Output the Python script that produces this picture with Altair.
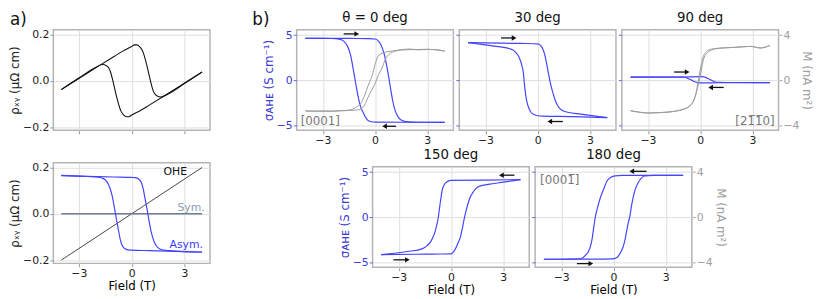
import altair as alt
import pandas as pd

FONT = "DejaVu Sans"
BLUE = "#4444ff"
BLUE_TXT = "#3a3ad6"
GRAY = "#9a9a9a"
GRAY_TXT = "#a0a0a0"

# ---------------- panel a (top): total rho_xy ----------------
A_TOP_UP_X = [-4, -3, -2, -1, -0.5, 0, 0.15, 0.3, 0.45, 0.6, 0.7, 0.8, 0.9, 1.0, 1.1, 1.2, 1.3, 1.45, 1.65, 2, 3, 4]
A_TOP_UP_Y = [-0.038, 0.01, 0.058, 0.105, 0.128, 0.148, 0.155, 0.155, 0.148, 0.132, 0.112, 0.085, 0.055, 0.022,
              -0.01, -0.038, -0.055, -0.066, -0.07, -0.06, -0.012, 0.038]
A_TOP_DN_X = [4, 3, 2, 1, 0.5, 0, -0.15, -0.3, -0.45, -0.6, -0.7, -0.8, -0.9, -1.0, -1.1, -1.2, -1.3, -1.45, -1.65, -2, -3, -4]
A_TOP_DN_Y = [0.038, -0.01, -0.058, -0.105, -0.128, -0.148, -0.155, -0.155, -0.148, -0.132, -0.112, -0.085, -0.055,
              -0.022, 0.01, 0.038, 0.055, 0.066, 0.07, 0.06, 0.012, -0.038]

# ---------------- panel a (bottom): components ----------------
ASYM_UP_X = [-4, -3, -2, -1, 0, 0.2, 0.4, 0.55, 0.65, 0.75, 0.85, 0.92, 1.0, 1.1, 1.25, 1.4, 1.6, 1.9, 2.5, 3, 4]
ASYM_UP_Y = [0.165, 0.163, 0.161, 0.159, 0.157, 0.156, 0.15, 0.135, 0.11, 0.07, 0.03, 0.0, -0.035, -0.075,
             -0.115, -0.138, -0.152, -0.158, -0.161, -0.163, -0.166]
ASYM_DN_X = [4, 3, 2, 1, 0, -0.2, -0.4, -0.55, -0.65, -0.75, -0.85, -0.92, -1.0, -1.1, -1.25, -1.4, -1.6, -1.9, -2.5, -3, -4]
ASYM_DN_Y = [-0.165, -0.163, -0.161, -0.159, -0.157, -0.156, -0.15, -0.135, -0.11, -0.07, -0.03, 0.0, 0.035, 0.075,
             0.115, 0.138, 0.152, 0.158, 0.161, 0.163, 0.166]
OHE_X = [-4, 4]
OHE_Y = [-0.2, 0.2]
SYM_X = [-4, 4]
SYM_Y = [0.0, 0.0]
LBL_TEXT = ["OHE", "Sym.", "Asym."]
LBL_X = [3.15, 4.15, 4.05]
LBL_Y = [0.18, 0.024, -0.137]
LBL_COLOR = ["#111111", "#8a9bb0", "#3a3aff"]

# ---------------- panel b: sigma_AHE (S/cm) and M (nA m^2) ----------------
# theta = 0 deg
S0_UP_X = [-4, -2, -1, -0.3, 0, 0.2, 0.35, 0.5, 0.6, 0.7, 0.8, 0.9, 1.0, 1.1, 1.25, 1.4, 1.6, 1.9, 2.5, 4]
S0_UP_Y = [4.66, 4.65, 4.64, 4.63, 4.58, 4.35, 3.9, 3.1, 2.3, 1.3, 0.2, -1.0, -2.1, -3.0, -3.8, -4.25, -4.5, -4.62, -4.65, -4.66]
S0_DN_X = [4, 2, 0, -0.2, -0.4, -0.55, -0.7, -0.85, -0.95, -1.05, -1.15, -1.25, -1.35, -1.45, -1.6, -1.8, -2, -2.5, -4]
S0_DN_Y = [-4.66, -4.65, -4.64, -4.6, -4.45, -4.1, -3.5, -2.8, -2.0, -1.0, 0.1, 1.2, 2.3, 3.1, 3.85, 4.35, 4.55, 4.64, 4.66]
M0_DN_X = [4, 3.5, 3, 2.5, 2, 1.5, 1.0, 0.6, 0.2, 0.0, -0.15, -0.3, -0.5, -0.6, -0.8, -1.1, -1.5, -2, -2.5, -3, -3.5, -4]
M0_DN_Y = [2.6, 2.72, 2.75, 2.7, 2.78, 2.72, 2.6, 2.5, 2.2, 1.4, 0.5, -0.1, -0.9, -1.35, -2.0, -2.4, -2.65, -2.7, -2.75, -2.72, -2.74, -2.72]
M0_UP_X = [-4, -3, -2, -1.2, -0.88, -0.6, -0.4, -0.2, 0.0, 0.2, 0.4, 0.6, 0.8, 1.0, 1.5, 2, 3, 4]
M0_UP_Y = [-2.72, -2.74, -2.7, -2.65, -2.6, -2.2, -1.5, -0.9, -0.3, 0.5, 1.1, 1.9, 2.3, 2.5, 2.68, 2.72, 2.75, 2.6]

# 30 deg
S30_UP_X = [-4, -2, -1, 0, 0.15, 0.28, 0.4, 0.49, 0.6, 0.7, 0.8, 0.91, 1.05, 1.23, 1.4, 1.61, 2.5, 4]
S30_UP_Y = [4.18, 4.12, 4.09, 4.05, 3.9, 3.55, 2.9, 2.14, 1.0, 0.0, -0.85, -1.61, -2.4, -3.03, -3.32, -3.49, -3.75, -4.14]
S30_DN_X = [4, 2, 0.3, 0, -0.2, -0.37, -0.5, -0.6, -0.67, -0.72, -0.77, -0.81, -0.9, -0.98, -1.1, -1.23, -1.4, -1.6, -2.5, -4]
S30_DN_Y = [-4.14, -4.03, -3.97, -3.93, -3.8, -3.57, -3.1, -2.5, -1.8, -1.07, -0.2, 0.72, 1.6, 2.14, 2.7, 3.04, 3.35, 3.5, 3.8, 4.18]

# 90 deg
S90_UP_X = [-4, -1, 0, 0.15, 0.3, 0.5, 0.7, 0.85, 1.0, 1.5, 4]
S90_UP_Y = [0.36, 0.37, 0.4, 0.4, 0.33, 0.15, -0.05, -0.18, -0.23, -0.24, -0.25]
S90_DN_X = [4, 1, 0, -0.15, -0.3, -0.5, -0.7, -0.85, -1.0, -4]
S90_DN_Y = [-0.25, -0.27, -0.28, -0.26, -0.16, 0.02, 0.2, 0.31, 0.36, 0.36]
M90_DN_X = [4, 3.46, 2.9, 2.4, 1.95, 1.4, 0.82, 0.5, 0.3, 0.15, 0.05, -0.05, -0.15, -0.25, -0.4, -0.6, -0.9, -1.3,
            -1.85, -2.5, -3, -3.5, -4]
M90_DN_Y = [3.09, 2.87, 3.01, 2.97, 2.92, 2.88, 2.81, 2.7, 2.45, 2.0, 1.3, 0.5, -0.4, -1.2, -1.9, -2.3, -2.55, -2.7,
            -2.82, -2.87, -2.9, -2.82, -2.7]
M90_UP_X = [-4, -3, -1.85, -1.1, -0.6, -0.35, -0.22, -0.1, 0.0, 0.1, 0.2, 0.35, 0.5, 0.82, 1.2, 1.95, 2.9, 3.46, 4]
M90_UP_Y = [-2.7, -2.9, -2.82, -2.62, -2.25, -1.7, -1.1, -0.3, 0.4, 1.2, 1.9, 2.35, 2.55, 2.78, 2.86, 2.92, 3.01, 2.87, 3.09]

# 150 deg
S150_UP_X = [-4, -2, -1, 0, 0.15, 0.26, 0.4, 0.56, 0.68, 0.79, 0.88, 0.98, 1.1, 1.26, 1.45, 1.64, 2.5, 4]
S150_UP_Y = [-4.15, -4.1, -4.08, -4.05, -3.85, -3.5, -2.9, -2.08, -1.0, 0.06, 0.8, 1.5, 2.2, 2.74, 3.2, 3.46, 3.75, 4.18]
S150_DN_X = [4, 2, 0, -0.25, -0.4, -0.49, -0.56, -0.62, -0.67, -0.72, -0.8, -0.9, -1.05, -1.19, -1.4, -1.66, -2.5, -4]
S150_DN_Y = [4.18, 4.13, 4.1, 3.92, 3.55, 3.1, 2.3, 1.5, 0.8, 0.06, -0.75, -1.54, -2.3, -2.79, -3.2, -3.5, -3.8, -4.15]

# 180 deg
S180_UP_X = [-4, -2, -0.5, -0.1, 0.2, 0.38, 0.55, 0.65, 0.75, 0.85, 0.94, 1.03, 1.13, 1.25, 1.41, 1.6, 1.79, 2.3, 4]
S180_UP_Y = [-4.66, -4.65, -4.64, -4.62, -4.45, -4.0, -3.3, -2.6, -1.6, -0.6, 0.1, 1.2, 2.2, 3.1, 3.8, 4.35, 4.58, 4.64, 4.65]
S180_DN_X = [4, 2, 0.5, 0.1, -0.15, -0.38, -0.55, -0.75, -0.9, -1.04, -1.14, -1.23, -1.35, -1.6, -1.88, -2.3, -4]
S180_DN_Y = [4.65, 4.65, 4.64, 4.6, 4.45, 4.0, 3.2, 2.2, 1.2, 0.06, -1.2, -2.43, -3.4, -4.2, -4.6, -4.65, -4.66]

# sweep-direction arrows: tail x, head x, y (sigma units)
AR0_X0, AR0_X1, AR0_Y = [-1.8, 1.2], [-1.05, 0.55], [5.15, -5.1]
AR30_X0, AR30_X1, AR30_Y = [-2.1, 1.45], [-1.35, 0.7], [4.7, -4.57]
AR90_X0, AR90_X1, AR90_Y = [-1.5, 1.35], [-0.75, 0.6], [0.92, -0.79]
AR150_X0, AR150_X1, AR150_Y = [3.65, -3.3], [2.9, -2.5], [4.67, -4.72]
AR180_X0, AR180_X1, AR180_Y = [1.9, -2.1], [1.05, -1.3], [5.1, -5.14]

X_TICKS = [-3, 0, 3]
XA_DOM = [-4.45, 4.45]
XB_DOM = [-4.5, 4.5]
RHO_DOM = [-0.214, 0.22]
SIG_DOM = [-5.55, 5.6]
M_DOM = [-4.44, 4.48]
W, H = 159, 102


def branches(*pairs):
    frames = []
    for i, (xs, ys) in enumerate(pairs):
        frames.append(pd.DataFrame({"x": xs, "y": ys, "b": [f"b{i}"] * len(xs)}))
    return pd.concat(frames, ignore_index=True)


def xenc(dom, labels, title, field="x"):
    return alt.X(f"{field}:Q", scale=alt.Scale(domain=dom, nice=False, zero=False),
                 axis=alt.Axis(values=X_TICKS, labels=labels, title=title, grid=True, titlePadding=2,
                               labelColor="#222222", tickColor="#9a9a9a"))


def text_at(txt, px, py, size=17, color="#111111", align="left", baseline="bottom"):
    return alt.Chart(pd.DataFrame({"t": [txt]})).mark_text(
        fontSize=size, font=FONT, align=align, baseline=baseline, color=color).encode(
        x=alt.value(px), y=alt.value(py), text="t:N")


# ---------------- panel a ----------------
def a_yaxis():
    return alt.Axis(values=[-0.2, 0, 0.2], format=".1f", title="ρₓᵧ (μΩ cm)", grid=True,
                    labelColor="#222222", titleColor="#222222", tickColor="#9a9a9a")


def a_top():
    d = branches((A_TOP_UP_X, A_TOP_UP_Y), (A_TOP_DN_X, A_TOP_DN_Y))
    line = alt.Chart(d).mark_line(color="#111111", strokeWidth=1.1, interpolate="monotone").encode(
        x=xenc(XA_DOM, False, None),
        y=alt.Y("y:Q", scale=alt.Scale(domain=RHO_DOM, nice=False, zero=False), axis=a_yaxis()),
        detail="b:N")
    return alt.layer(line, text_at("a)", -44, -1)).properties(width=W, height=H)


def a_bot():
    yscale = alt.Scale(domain=RHO_DOM, nice=False, zero=False)
    ye = alt.Y("y:Q", scale=yscale, axis=a_yaxis())
    xe = xenc(XA_DOM, True, "Field (T)")
    ohe = alt.Chart(pd.DataFrame({"x": OHE_X, "y": OHE_Y})).mark_line(color="#333333", strokeWidth=0.9).encode(
        x=xe, y=ye)
    sym = alt.Chart(pd.DataFrame({"x": SYM_X, "y": SYM_Y})).mark_line(color="#6f7f91", strokeWidth=1.5).encode(
        x=xe, y=ye)
    d = branches((ASYM_UP_X, ASYM_UP_Y), (ASYM_DN_X, ASYM_DN_Y))
    asym = alt.Chart(d).mark_line(color=BLUE, strokeWidth=1.2, interpolate="monotone").encode(
        x=xe, y=ye, detail="b:N")
    lbl = alt.Chart(pd.DataFrame({"x": LBL_X, "y": LBL_Y, "t": LBL_TEXT, "c": LBL_COLOR})).mark_text(
        align="right", baseline="middle", fontSize=11, font=FONT).encode(
        x=xe, y=ye, text="t:N", color=alt.Color("c:N", scale=None))
    return alt.layer(ohe, sym, asym, lbl).properties(width=W, height=H)


# ---------------- panel b ----------------
def bpanel(title, blue_pairs, m_pairs, arrows, ylabels, mmode, xtitle, notes, extra=()):
    xe = xenc(XB_DOM, True, "Field (T)" if xtitle else None)
    sscale = alt.Scale(domain=SIG_DOM, nice=False, zero=False)
    mscale = alt.Scale(domain=M_DOM, nice=False, zero=False)
    yax = alt.Axis(values=[-5, 0, 5], labels=ylabels, title="σᴀʜᴇ (S cm⁻¹)" if ylabels else None,
                   grid=True, labelColor=BLUE_TXT, titleColor=BLUE_TXT, tickColor="#6a6ae0")
    layers = []
    d = branches(*blue_pairs)
    layers.append(alt.Chart(d).mark_line(color=BLUE, strokeWidth=1.2, interpolate="monotone").encode(
        x=xe, y=alt.Y("y:Q", scale=sscale, axis=yax), detail="b:N"))
    max_ = alt.Axis(values=[-4, 0, 4], orient="right", title="M (nA m²)", grid=False,
                    labelColor=GRAY_TXT, titleColor=GRAY_TXT, tickColor="#aaaaaa")
    if m_pairs:
        dm = branches(*m_pairs)
        layers.append(alt.Chart(dm).mark_line(color=GRAY, strokeWidth=1.0, interpolate="monotone").encode(
            x=xe, y=alt.Y("y:Q", scale=mscale, axis=max_ if mmode == "axis" else None), detail="b:N"))
    elif mmode == "axis":
        layers.append(alt.Chart(pd.DataFrame({"x": [0.0]})).mark_point(opacity=0).encode(
            x=xe, y=alt.Y(datum=0, scale=mscale, axis=max_)))
    x0, x1, yy = arrows
    da = pd.DataFrame({"x": x0, "xh": x1, "y": yy,
                       "dir": ["r" if b > a else "l" for a, b in zip(x0, x1)]})
    layers.append(alt.Chart(da).mark_rule(color="#111111", strokeWidth=1.3).encode(
        x=xe, x2="xh:Q", y=alt.Y("y:Q", scale=sscale, axis=None)))
    layers.append(alt.Chart(da).mark_point(filled=True, color="#111111", size=30, opacity=1).encode(
        x=xenc(XB_DOM, True, "Field (T)" if xtitle else None, field="xh"),
        y=alt.Y("y:Q", scale=sscale, axis=None),
        shape=alt.Shape("dir:N", scale=alt.Scale(domain=["r", "l"], range=["triangle-right", "triangle-left"]),
                        legend=None)))
    for (txt, px, py, al, size, col) in notes:
        layers.append(text_at(txt, px, py, size=size, color=col, align=al, baseline="alphabetic"))
    # panel title
    layers.append(text_at(title, W / 2, -5, size=13.5, align="center"))
    layers.extend(extra)
    return alt.layer(*layers).resolve_scale(y="independent").properties(width=W, height=H)


b0 = bpanel("θ = 0 deg", [(S0_UP_X, S0_UP_Y), (S0_DN_X, S0_DN_Y)], [(M0_DN_X, M0_DN_Y), (M0_UP_X, M0_UP_Y)],
            (AR0_X0, AR0_X1, AR0_Y), True, "hidden", False,
            [("[0001]", 4, 97, "left", 12, "#777777")], extra=[text_at("b)", -45, -1)])
b30 = bpanel("30 deg", [(S30_UP_X, S30_UP_Y), (S30_DN_X, S30_DN_Y)], [],
             (AR30_X0, AR30_X1, AR30_Y), False, "none", False, [])
b90 = bpanel("90 deg", [(S90_UP_X, S90_UP_Y), (S90_DN_X, S90_DN_Y)], [(M90_DN_X, M90_DN_Y), (M90_UP_X, M90_UP_Y)],
             (AR90_X0, AR90_X1, AR90_Y), False, "axis", False,
             [("[21̅1̅0]", 155, 97, "right", 12, "#777777")])
# white anchor gives the lower-left panel the same left extent as the upper-left one
b150 = bpanel("150 deg", [(S150_UP_X, S150_UP_Y), (S150_DN_X, S150_DN_Y)], [],
              (AR150_X0, AR150_X1, AR150_Y), True, "none", True, [],
              extra=[text_at("b)", -45, 60, color="#ffffff")])
b180 = bpanel("180 deg", [(S180_UP_X, S180_UP_Y), (S180_DN_X, S180_DN_Y)], [],
              (AR180_X0, AR180_X1, AR180_Y), False, "axis", True,
              [("[0001̅]", 5, 17, "left", 12, "#777777")])

SPACER_W = 30
spacer = alt.Chart(pd.DataFrame({"x": [0.0]})).mark_rule(color="#ffffff", strokeWidth=1).encode(
    x=alt.value(0), x2=alt.value(SPACER_W), y=alt.value(50)).properties(
    width=SPACER_W, height=H, view=alt.ViewBackground(strokeOpacity=0))

left = alt.vconcat(a_top(), a_bot(), spacing=25)
row1 = alt.hconcat(b0, b30, b90, spacing=0)
row2 = alt.hconcat(spacer, b150, b180, spacing=0)
right = alt.vconcat(row1, row2, spacing=0)

chart = alt.hconcat(left, right, spacing=41).properties(
    padding={"left": 0, "top": 0, "right": 0, "bottom": 0}
).configure_view(
    stroke="#b4b4b4", strokeWidth=1.5
).configure_axis(
    gridColor="#dedede", gridWidth=1, domain=False, tickSize=3.5, tickWidth=1,
    labelFont=FONT, titleFont=FONT, labelFontSize=11, titleFontSize=12,
    titleFontWeight="normal", labelPadding=1, titlePadding=1
)

chart.save("out.html", embed_options={"renderer": "svg", "actions": False})
